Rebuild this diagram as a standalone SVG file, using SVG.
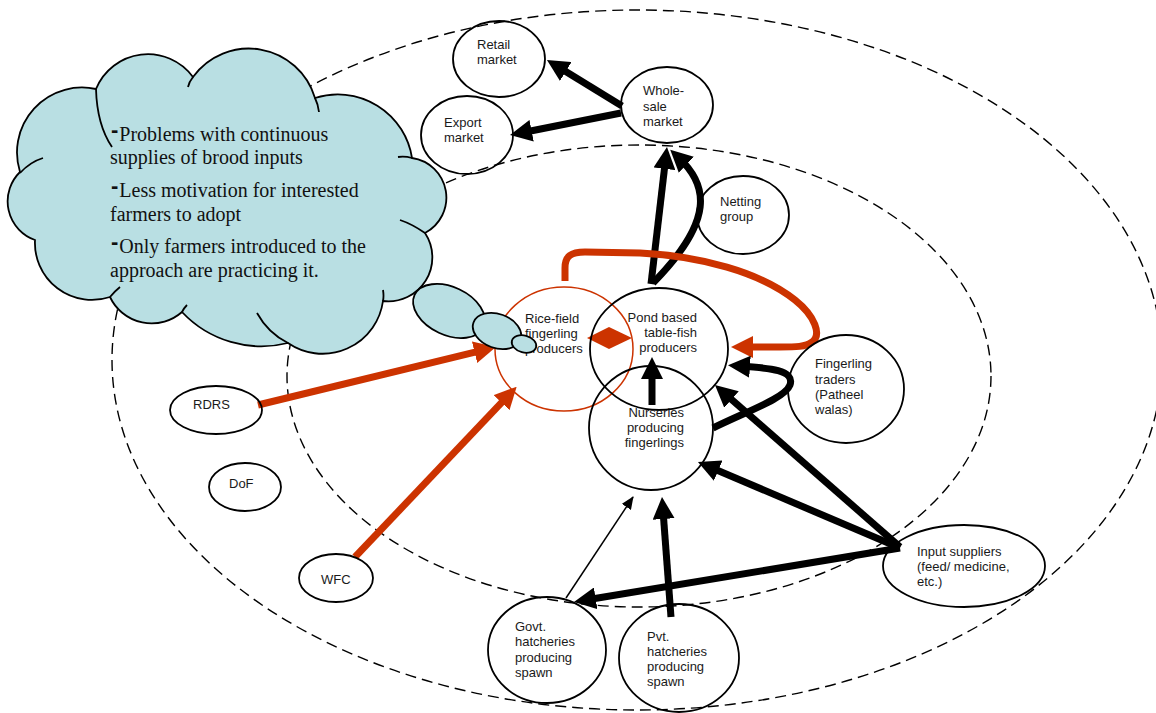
<svg xmlns="http://www.w3.org/2000/svg" width="1156" height="713" viewBox="0 0 1156 713">
<style>
.zone{fill:none;stroke:#000;stroke-width:1.4;stroke-dasharray:11 6}
.node{fill:none;stroke:#000;stroke-width:1.8}
.red-node{fill:none;stroke:#CC3300;stroke-width:1.5}
.lbl{font-family:"Liberation Sans",Arial,sans-serif;font-size:13px;fill:#1a1a1a}
.blk{fill:none;stroke:#000;stroke-width:7}
.red{fill:none;stroke:#CC3300;stroke-width:7}
.thin{fill:none;stroke:#000;stroke-width:1.5}
.cloud{fill:#B9DFE3;stroke:#000;stroke-width:1.8}
.hook{fill:none;stroke:#000;stroke-width:1.8}
.ctext{font-family:"Liberation Serif","Times New Roman",serif;font-size:20px;fill:#111}
.dash{font-family:"Liberation Sans",Arial,sans-serif;font-weight:bold;font-size:22px}
</style>
<defs>
<marker id="ah" markerUnits="userSpaceOnUse" markerWidth="22" markerHeight="22" refX="10" refY="11" orient="auto" viewBox="0 0 22 22"><path d="M0,0 L22,11 L0,22 Z" fill="#000"/></marker>
<marker id="ahr" markerUnits="userSpaceOnUse" markerWidth="22" markerHeight="22" refX="10" refY="11" orient="auto" viewBox="0 0 22 22"><path d="M0,0 L22,11 L0,22 Z" fill="#CC3300"/></marker>
<marker id="aht" markerUnits="userSpaceOnUse" markerWidth="13" markerHeight="11" refX="12" refY="5.5" orient="auto" viewBox="0 0 13 11"><path d="M0,0 L13,5.5 L0,11 Z" fill="#000"/></marker>
</defs>
<rect width="1156" height="713" fill="#fff"/>
<g id="zones">
<ellipse class="zone" cx="637" cy="360" rx="525" ry="350"/>
<ellipse class="zone" cx="639" cy="376" rx="352" ry="231"/>
</g>
<g id="connectors">
<line class="blk" x1="622" y1="106" x2="557.2" y2="66.3" marker-end="url(#ah)"/>
<line class="blk" x1="621" y1="113" x2="521.8" y2="132.7" marker-end="url(#ah)"/>
<line class="blk" x1="651" y1="284" x2="665.6" y2="158.9" marker-end="url(#ah)"/>
<path class="blk" d="M653,283 C715,220 708,185 679,158" marker-end="url(#ah)"/>
<path class="red" d="M565,281 L565,268 C565,256 571,252 585,252 L640,253 C700,256 760,272 795,300 C815,316 822,335 812,342 C806,347 795,347 780,347 L743,347" marker-end="url(#ahr)"/>
<polygon points="587,338 609,327 632,338 609,349" fill="#CC3300"/>
<line class="blk" x1="652" y1="405" x2="652" y2="369" marker-end="url(#ah)"/>
<path class="blk" d="M713,428 C750,410 785,398 790,385 C795,370 770,368 740,366" marker-end="url(#ah)"/>
<line class="blk" x1="900" y1="547" x2="724" y2="392.9" marker-end="url(#ah)"/>
<line class="blk" x1="900" y1="548" x2="709" y2="466.7" marker-end="url(#ah)"/>
<line class="blk" x1="900" y1="548" x2="585.8" y2="600" marker-end="url(#ah)"/>
<line class="thin" x1="566" y1="598" x2="633" y2="497" marker-end="url(#aht)"/>
<line class="blk" x1="671" y1="617" x2="662.9" y2="509" marker-end="url(#ah)"/>
<line class="red" x1="258" y1="405" x2="484.3" y2="349.9" marker-end="url(#ahr)"/>
<line class="red" x1="355" y1="557" x2="508.4" y2="395.4" marker-end="url(#ahr)"/>
</g>
<g id="retail"><ellipse class="node" cx="499" cy="59" rx="46" ry="38"/><text class="lbl" x="477" y="49">Retail</text><text class="lbl" x="477" y="64">market</text></g>
<g id="export"><ellipse class="node" cx="467" cy="135" rx="46" ry="39"/><text class="lbl" x="444" y="127">Export</text><text class="lbl" x="444" y="142">market</text></g>
<g id="wholesale"><ellipse class="node" cx="667" cy="105" rx="46" ry="38"/><text class="lbl" x="643" y="95">Whole-</text><text class="lbl" x="643" y="111">sale</text><text class="lbl" x="643" y="126">market</text></g>
<g id="netting"><ellipse class="node" cx="743" cy="215" rx="46" ry="39"/><text class="lbl" x="720" y="206">Netting</text><text class="lbl" x="720" y="221">group</text></g>
<g id="ricefield"><ellipse class="red-node" cx="564" cy="349" rx="69" ry="62"/><text class="lbl" x="525" y="323">Rice-field</text><text class="lbl" x="525" y="338">fingerling</text><text class="lbl" x="525" y="353">producers</text></g>
<g id="pond"><ellipse class="node" cx="659" cy="349" rx="69" ry="61"/><text class="lbl" x="697" y="322" text-anchor="end">Pond based</text><text class="lbl" x="697" y="337" text-anchor="end">table-fish</text><text class="lbl" x="697" y="352" text-anchor="end">producers</text></g>
<g id="nurseries"><ellipse class="node" cx="651" cy="428" rx="62" ry="62"/><text class="lbl" x="684" y="417" text-anchor="end">Nurseries</text><text class="lbl" x="684" y="432" text-anchor="end">producing</text><text class="lbl" x="684" y="447" text-anchor="end">fingerlings</text></g>
<g id="traders"><ellipse class="node" cx="846" cy="389" rx="58" ry="54"/><text class="lbl" x="815" y="368">Fingerling</text><text class="lbl" x="815" y="384">traders</text><text class="lbl" x="815" y="399">(Patheel</text><text class="lbl" x="815" y="414">walas)</text></g>
<g id="input"><ellipse class="node" cx="964" cy="566" rx="81" ry="41"/><text class="lbl" x="917" y="556">Input suppliers</text><text class="lbl" x="917" y="571">(feed/ medicine,</text><text class="lbl" x="917" y="586">etc.)</text></g>
<g id="govt"><ellipse class="node" cx="547" cy="650" rx="59" ry="53"/><text class="lbl" x="515" y="631">Govt.</text><text class="lbl" x="515" y="646">hatcheries</text><text class="lbl" x="515" y="662">producing</text><text class="lbl" x="515" y="677">spawn</text></g>
<g id="pvt"><ellipse class="node" cx="679" cy="658" rx="60" ry="54"/><text class="lbl" x="647" y="641">Pvt.</text><text class="lbl" x="647" y="656">hatcheries</text><text class="lbl" x="647" y="671">producing</text><text class="lbl" x="647" y="686">spawn</text></g>
<g id="rdrs"><ellipse class="node" cx="216" cy="410" rx="46" ry="24"/><text class="lbl" x="193" y="409">RDRS</text></g>
<g id="dof"><ellipse class="node" cx="245" cy="487" rx="36" ry="24"/><text class="lbl" x="229" y="488">DoF</text></g>
<g id="wfc"><ellipse class="node" cx="336" cy="578" rx="37" ry="24"/><text class="lbl" x="321" y="584">WFC</text></g>
<g id="cloud">
<path class="cloud" d="M20,172 A65,65 0 0 1 96,89 A56,56 0 0 1 193,77 A69,69 0 0 1 315,98 A75,75 0 0 1 412,158 A40,40 0 0 1 425,233 A44,44 0 0 1 383,301 A61,61 0 0 1 288,343 A109,109 0 0 1 182,312 A46,46 0 0 1 110,297 A57,57 0 0 1 35,240 A41,41 0 0 1 20,172 Z"/>
<path class="hook" d="M96,89 Q97,125 112,147 M193,77 Q189,82 188,87 M315,98 Q318,104 319,112 M412,158 Q405,156 398,157 M425,233 Q412,224 400,220 M383,301 Q384,296 383,290 M288,343 Q268,333 257,313 M182,312 Q184,308 187,305 M110,297 Q115,291 120,287 M20,173 Q30,162 43,158"/>
<ellipse class="cloud" cx="449" cy="311" rx="38" ry="24" transform="rotate(25 449 311)"/>
<ellipse class="cloud" cx="497" cy="331" rx="25" ry="17" transform="rotate(20 497 331)"/>
<ellipse class="cloud" cx="524" cy="344" rx="12.5" ry="8.5" transform="rotate(15 524 344)"/>
<text class="ctext" x="111" y="140.5"><tspan class="dash" dy="-4">-</tspan><tspan dx="1" dy="4">Problems with continuous</tspan></text>
<text class="ctext" x="110" y="163.5">supplies of brood inputs</text>
<text class="ctext" x="111" y="197"><tspan class="dash" dy="-4">-</tspan><tspan dx="1" dy="4">Less motivation for interested</tspan></text>
<text class="ctext" x="110" y="220.5">farmers to adopt</text>
<text class="ctext" x="111" y="253"><tspan class="dash" dy="-4">-</tspan><tspan dx="1" dy="4">Only farmers introduced to the</tspan></text>
<text class="ctext" x="110" y="277">approach are practicing it.</text>
</g>
</svg>
